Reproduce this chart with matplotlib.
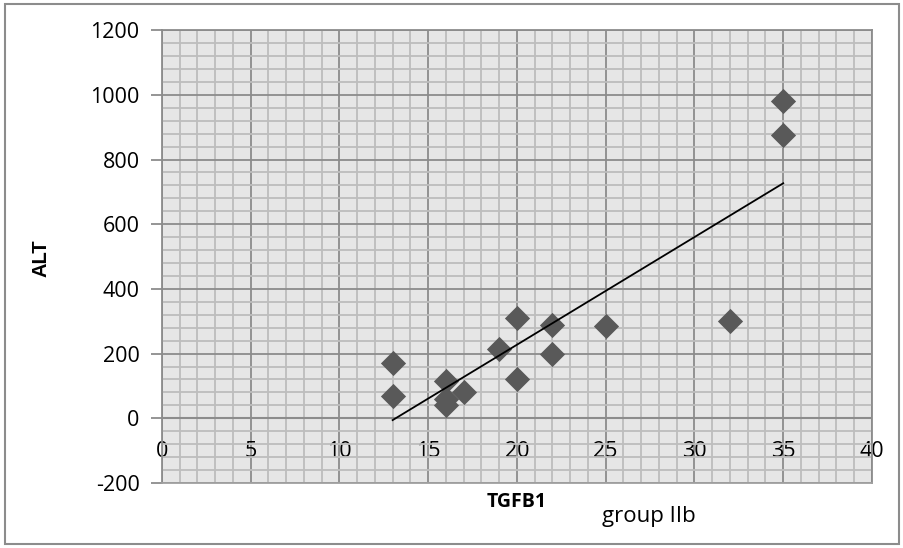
import numpy as np
import matplotlib.pyplot as plt
from matplotlib.patches import Rectangle
from matplotlib.ticker import MultipleLocator

# TGFB1 vs ALT, group IIb
tgfb1 = [13, 13, 16, 16, 16, 17, 19, 20, 20, 22, 22, 25, 32, 35, 35]
alt = [170, 70, 115, 60, 40, 80, 215, 310, 120, 290, 200, 285, 300, 980, 875]

x_ticks = [0, 5, 10, 15, 20, 25, 30, 35, 40]
y_ticks = [-200, 0, 200, 400, 600, 800, 1000, 1200]

plt.rcParams['axes.unicode_minus'] = False

tick_font = 'Open Sans'
minor_col = '#bdbdbd'
major_col = '#8c8c8c'

fig = plt.figure(figsize=(9.04, 5.48), dpi=100)
ax = fig.add_axes([0.179, 0.1186, 0.7856, 0.8264])
ax.set_facecolor('#e6e6e6')

ax.set_xlim(0, 40)
ax.set_ylim(-200, 1200)
ax.xaxis.set_major_locator(MultipleLocator(5))
ax.xaxis.set_minor_locator(MultipleLocator(1))
ax.yaxis.set_major_locator(MultipleLocator(200))
ax.yaxis.set_minor_locator(MultipleLocator(40))

ax.grid(which='minor', color=minor_col, linewidth=1.3)
ax.grid(which='major', color=major_col, linewidth=1.3)
ax.set_axisbelow(True)

for side in ['top', 'right', 'bottom', 'left']:
    ax.spines[side].set_color(major_col)
    ax.spines[side].set_linewidth(1.3)
ax.spines['bottom'].set_color('#a0a0a0')

# x axis crosses at y = 0
ax.axhline(0, color=major_col, linewidth=1.5, zorder=1)

ax.set_xticks(x_ticks)
ax.set_yticks(y_ticks)
ax.tick_params(axis='x', which='both', length=0, pad=-30)
ax.tick_params(axis='y', which='major', length=8, color=major_col, width=1.3, pad=8)
ax.tick_params(axis='y', which='minor', length=0)
for lab in ax.get_xticklabels() + ax.get_yticklabels():
    lab.set_fontfamily(tick_font)
    lab.set_fontsize(15.5)

ax.scatter(tgfb1, alt, marker='D', s=165, color='#595959', zorder=3,
           linewidths=0)

# linear trend line over the data range
k, b = np.polyfit(tgfb1, alt, 1)
xs = np.array([min(tgfb1), max(tgfb1)])
ax.plot(xs, k * xs + b, color='black', linewidth=1.3, zorder=4)

fig.text(0.045, 0.529, 'ALT', rotation=90, ha='center', va='center',
         fontsize=14.5, fontweight='bold', family='Liberation Sans')
fig.text(0.571, 0.084, 'TGFB1', ha='center', va='center',
         fontsize=14, fontweight='bold', family=tick_font)
fig.text(0.666, 0.058, 'group IIb', ha='left', va='center',
         fontsize=16, family=tick_font)

fig.patches.append(Rectangle((0.006, 0.008), 0.988, 0.984,
                             transform=fig.transFigure, fill=False,
                             edgecolor='#8c8c8c', linewidth=1.5))

fig.savefig('out.png', dpi=100)
plt.close(fig)
